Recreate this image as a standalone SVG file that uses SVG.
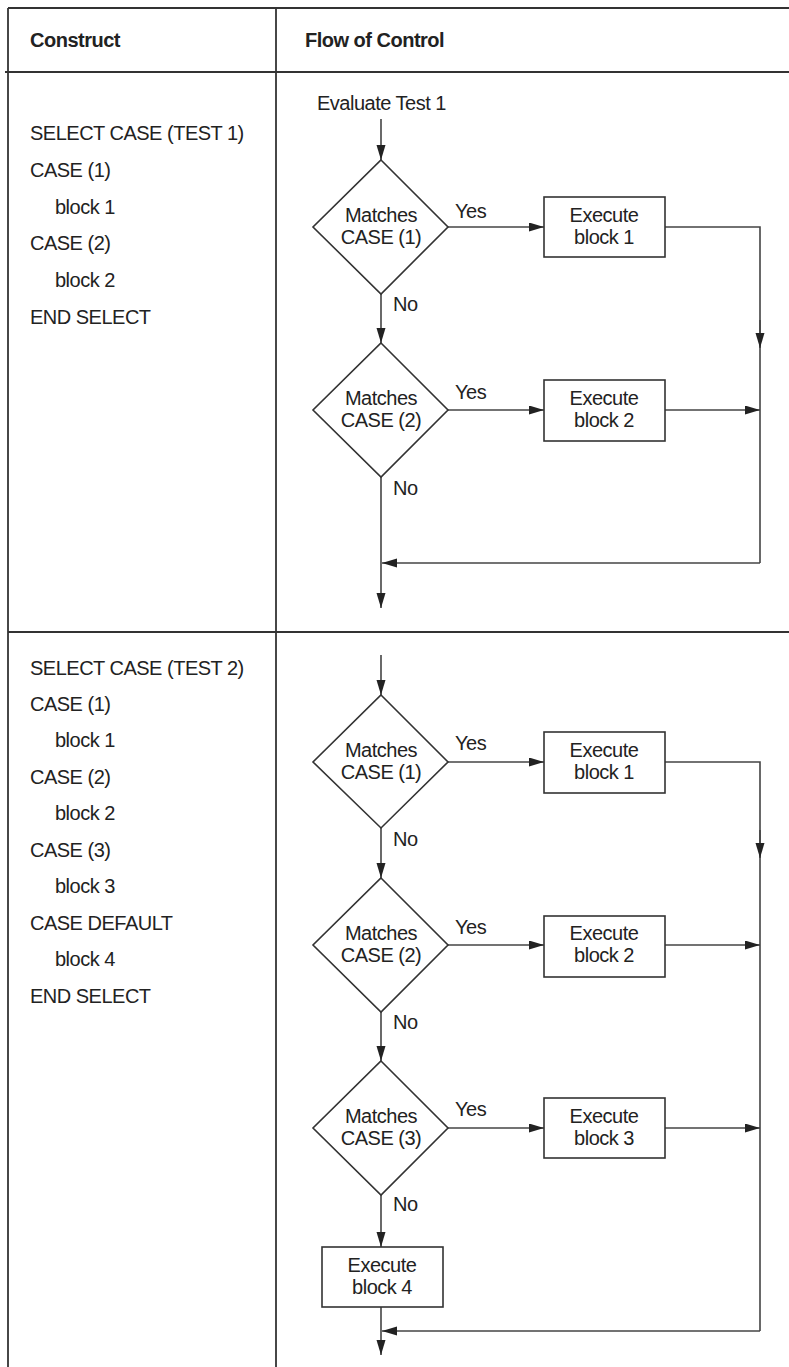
<svg xmlns="http://www.w3.org/2000/svg" width="789" height="1367" viewBox="0 0 789 1367">
<style>
text{font-family:"Liberation Sans",Arial,sans-serif;font-size:20px;letter-spacing:-0.5px;fill:#222}
.h{font-weight:bold}
.c{text-anchor:middle}
.tbl{stroke:#333;stroke-width:1.8;fill:none}
.shape{fill:#fff;stroke:#333;stroke-width:1.6}
.ln{stroke:#444;stroke-width:1.6;fill:none}
.ar{marker-end:url(#ah)}
</style>
<defs>
<marker id="ah" markerUnits="userSpaceOnUse" markerWidth="16" markerHeight="10" refX="15" refY="4.5" orient="auto">
<path d="M0,0 L15,4.5 L0,9 z" fill="#222"/>
</marker>
</defs>
<rect width="789" height="1367" fill="#fff"/>
<g id="table">
<line class="tbl" x1="8" y1="8" x2="789" y2="8"/>
<line class="tbl" x1="5" y1="72" x2="789" y2="72"/>
<line class="tbl" x1="8" y1="632" x2="789" y2="632"/>
<line class="tbl" x1="8" y1="8" x2="8" y2="1367"/>
<line class="tbl" x1="276" y1="8" x2="276" y2="1367"/>
<text class="h" x="30" y="47">Construct</text>
<text class="h" x="305" y="47">Flow of Control</text>
</g>
<g id="construct1">
<text x="30" y="140">SELECT CASE (TEST 1)</text>
<text x="30" y="177">CASE (1)</text>
<text x="55" y="214">block 1</text>
<text x="30" y="250">CASE (2)</text>
<text x="55" y="287">block 2</text>
<text x="30" y="324">END SELECT</text>
</g>
<g id="construct2">
<text x="30" y="675">SELECT CASE (TEST 2)</text>
<text x="30" y="711">CASE (1)</text>
<text x="55" y="747">block 1</text>
<text x="30" y="784">CASE (2)</text>
<text x="55" y="820">block 2</text>
<text x="30" y="857">CASE (3)</text>
<text x="55" y="893">block 3</text>
<text x="30" y="930">CASE DEFAULT</text>
<text x="55" y="966">block 4</text>
<text x="30" y="1003">END SELECT</text>
</g>
<g id="connectors">
<line class="ln ar" x1="381" y1="119" x2="381" y2="160"/>
<line class="ln ar" x1="448" y1="227" x2="544" y2="227"/>
<polyline class="ln" points="665,227 760,227 760,563"/>
<line class="ln ar" x1="760" y1="320" x2="760" y2="348"/>
<line class="ln ar" x1="381" y1="294" x2="381" y2="343"/>
<line class="ln ar" x1="448" y1="410" x2="544" y2="410"/>
<line class="ln ar" x1="665" y1="410" x2="760" y2="410"/>
<line class="ln ar" x1="381" y1="477" x2="381" y2="608"/>
<line class="ln ar" x1="760" y1="563" x2="382" y2="563"/>

<line class="ln ar" x1="381" y1="655" x2="381" y2="695"/>
<line class="ln ar" x1="448" y1="762" x2="544" y2="762"/>
<polyline class="ln" points="665,762 760,762 760,1331"/>
<line class="ln ar" x1="760" y1="830" x2="760" y2="858"/>
<line class="ln ar" x1="381" y1="828" x2="381" y2="878"/>
<line class="ln ar" x1="448" y1="945" x2="544" y2="945"/>
<line class="ln ar" x1="665" y1="945" x2="760" y2="945"/>
<line class="ln ar" x1="381" y1="1012" x2="381" y2="1061"/>
<line class="ln ar" x1="448" y1="1128" x2="544" y2="1128"/>
<line class="ln ar" x1="665" y1="1128" x2="760" y2="1128"/>
<line class="ln ar" x1="381" y1="1195" x2="381" y2="1247"/>
<line class="ln ar" x1="381" y1="1307" x2="381" y2="1355"/>
<line class="ln ar" x1="760" y1="1331" x2="382" y2="1331"/>
</g>
<g id="labels">
<text x="317" y="110">Evaluate Test 1</text>
<text x="455" y="218">Yes</text>
<text x="393" y="311">No</text>
<text x="455" y="399">Yes</text>
<text x="393" y="495">No</text>
<text x="455" y="750">Yes</text>
<text x="393" y="846">No</text>
<text x="455" y="934">Yes</text>
<text x="393" y="1029">No</text>
<text x="455" y="1116">Yes</text>
<text x="393" y="1211">No</text>
</g>
<g id="s1_d1">
<polygon class="shape" points="381,160 448,227 381,294 313,227"/>
<text class="c" x="381" y="222">Matches</text>
<text class="c" x="381" y="244">CASE (1)</text>
</g>
<g id="s1_b1">
<rect class="shape" x="544" y="197" width="121" height="60"/>
<text class="c" x="604" y="222">Execute</text>
<text class="c" x="604" y="244">block 1</text>
</g>
<g id="s1_d2">
<polygon class="shape" points="381,343 448,410 381,477 313,410"/>
<text class="c" x="381" y="405">Matches</text>
<text class="c" x="381" y="427">CASE (2)</text>
</g>
<g id="s1_b2">
<rect class="shape" x="544" y="380" width="121" height="61"/>
<text class="c" x="604" y="405">Execute</text>
<text class="c" x="604" y="427">block 2</text>
</g>
<g id="s2_d1">
<polygon class="shape" points="381,695 448,762 381,828 313,762"/>
<text class="c" x="381" y="757">Matches</text>
<text class="c" x="381" y="779">CASE (1)</text>
</g>
<g id="s2_b1">
<rect class="shape" x="544" y="732" width="121" height="61"/>
<text class="c" x="604" y="757">Execute</text>
<text class="c" x="604" y="779">block 1</text>
</g>
<g id="s2_d2">
<polygon class="shape" points="381,878 448,945 381,1012 313,945"/>
<text class="c" x="381" y="940">Matches</text>
<text class="c" x="381" y="962">CASE (2)</text>
</g>
<g id="s2_b2">
<rect class="shape" x="544" y="916" width="121" height="61"/>
<text class="c" x="604" y="940">Execute</text>
<text class="c" x="604" y="962">block 2</text>
</g>
<g id="s2_d3">
<polygon class="shape" points="381,1061 448,1128 381,1195 313,1128"/>
<text class="c" x="381" y="1123">Matches</text>
<text class="c" x="381" y="1145">CASE (3)</text>
</g>
<g id="s2_b3">
<rect class="shape" x="544" y="1098" width="121" height="60"/>
<text class="c" x="604" y="1123">Execute</text>
<text class="c" x="604" y="1145">block 3</text>
</g>
<g id="s2_b4">
<rect class="shape" x="322" y="1247" width="121" height="60"/>
<text class="c" x="382" y="1272">Execute</text>
<text class="c" x="382" y="1294">block 4</text>
</g>
</svg>
